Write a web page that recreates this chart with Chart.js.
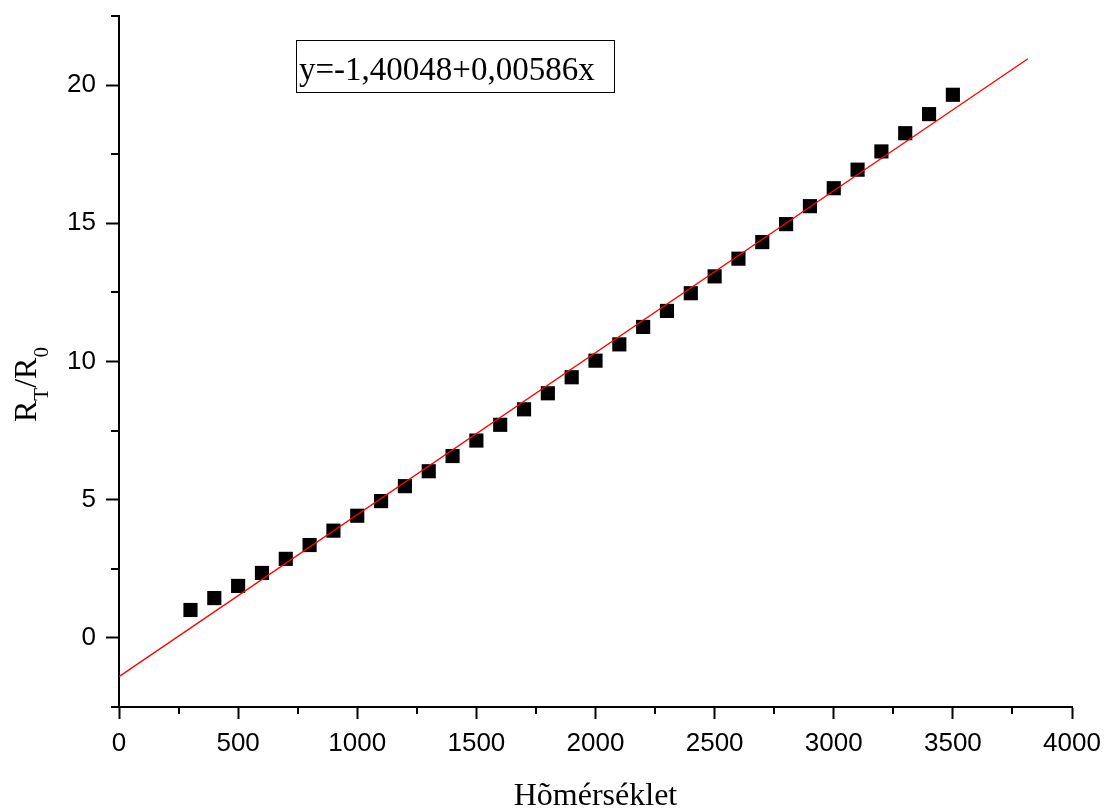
<!DOCTYPE html>
<html>
<head>
<meta charset="utf-8">
<script src="https://cdn.jsdelivr.net/npm/chart.js@4"></script>
<style>
  body { margin: 0; background: #fff; }
</style>
</head>
<body>
<canvas id="myChart" width="1106" height="809"></canvas>
<script>
// data
const temps = [300, 400, 500, 600, 700, 800, 900, 1000, 1100, 1200, 1300, 1400, 1500, 1600, 1700,
  1800, 1900, 2000, 2100, 2200, 2300, 2400, 2500, 2600, 2700, 2800, 2900, 3000, 3100, 3200, 3300, 3400, 3500]
const ratios = [1.01, 1.44, 1.88, 2.35, 2.86, 3.36, 3.88, 4.42, 4.95, 5.49, 6.03, 6.58, 7.14, 7.71, 8.27,
  8.85, 9.43, 10.03, 10.62, 11.25, 11.83, 12.47, 13.08, 13.72, 14.32, 14.97, 15.62, 16.27, 16.94, 17.60, 18.26, 18.95, 19.65]

// linear fit shown in the box
const fitA = -1.40048
const fitB = 0.00586
const fitX = [0, 3815]

const xTicks = [0, 500, 1000, 1500, 2000, 2500, 3000, 3500, 4000]
const yTicks = [0, 5, 10, 15, 20]
const xMinor = [250, 750, 1250, 1750, 2250, 2750, 3250, 3750]
const yMinor = [-2.5, 2.5, 7.5, 12.5, 17.5, 22.5]

const xTitle = 'Hõmérséklet'
const fitLabel = 'y=-1,40048+0,00586x'

const tickFont = { family: 'Liberation Sans', size: 26 }
const serif = 'Liberation Serif'

// minor ticks, axis titles and the equation box
const extras = {
  id: 'extras',
  afterDraw(chart) {
    const c = chart.ctx
    const x = chart.scales.x
    const y = chart.scales.y
    const area = chart.chartArea
    c.save()
    c.strokeStyle = '#000'
    c.lineWidth = 2
    c.beginPath()
    xMinor.forEach(v => {
      const px = Math.round(x.getPixelForValue(v))
      c.moveTo(px, area.bottom)
      c.lineTo(px, area.bottom + 7)
    })
    yMinor.forEach(v => {
      const py = Math.round(y.getPixelForValue(v))
      c.moveTo(area.left, py)
      c.lineTo(area.left - 8, py)
    })
    c.stroke()

    // x title
    c.fillStyle = '#000'
    c.font = '32px ' + serif
    c.textAlign = 'center'
    c.textBaseline = 'alphabetic'
    c.fillText(xTitle, (area.left + area.right) / 2, 805)

    // y title R_T/R_0
    c.translate(36, 422)
    c.rotate(-Math.PI / 2)
    c.textAlign = 'left'
    let pos = 0
    const part = (txt, size, off) => {
      c.font = size + 'px ' + serif
      c.fillText(txt, pos, off)
      pos += c.measureText(txt).width
    }
    part('R', 32, 0)
    part('T', 21, 12)
    part('/R', 32, 0)
    part('0', 21, 12)
    c.setTransform(1, 0, 0, 1, 0, 0)

    // equation box
    c.lineWidth = 1
    c.strokeRect(296.5, 40.5, 318, 52)
    c.font = '33px ' + serif
    c.textAlign = 'left'
    c.fillText(fitLabel, 299, 80)
    c.restore()
  }
}

const noPad = s => {
  s.paddingTop = 0
  s.paddingBottom = 0
  s.paddingLeft = 0
  s.paddingRight = 0
}

const ctx = document.getElementById('myChart').getContext('2d')
const myChart = new Chart(ctx, {
  type: 'scatter',
  data: {
    datasets: [{
      label: 'data',
      data: temps.map((t, i) => ({ x: t, y: ratios[i] })),
      pointStyle: 'rect',
      pointRadius: 10,
      pointHoverRadius: 10,
      backgroundColor: '#000',
      borderWidth: 0,
      order: 1
    }, {
      type: 'line',
      label: 'fit',
      data: fitX.map(t => ({ x: t, y: fitA + fitB * t })),
      borderColor: '#ff0000',
      borderWidth: 1.3,
      pointRadius: 0,
      fill: false,
      order: 0
    }]
  },
  options: {
    responsive: false,
    animation: false,
    devicePixelRatio: 1,
    layout: { padding: { left: 0, top: 16, right: 34, bottom: 0 } },
    plugins: {
      legend: { display: false },
      tooltip: { enabled: false }
    },
    scales: {
      x: {
        type: 'linear',
        min: 0,
        max: 4000,
        afterBuildTicks: s => { s.ticks = xTicks.map(v => ({ value: v })) },
        afterFit: s => { s.height = 102; noPad(s) },
        ticks: { color: '#000', font: tickFont, padding: 9, maxRotation: 0, callback: v => String(v) },
        grid: { drawOnChartArea: false, drawTicks: true, tickLength: 12, tickColor: '#000', tickWidth: 2 },
        border: { display: true, color: '#000', width: 2 }
      },
      y: {
        type: 'linear',
        min: -2.5,
        max: 22.5,
        afterBuildTicks: s => { s.ticks = yTicks.map(v => ({ value: v })) },
        afterFit: s => { s.width = 119; noPad(s) },
        ticks: { color: '#000', font: tickFont, padding: 10, callback: v => String(v) },
        grid: { drawOnChartArea: false, drawTicks: true, tickLength: 13, tickColor: '#000', tickWidth: 2 },
        border: { display: true, color: '#000', width: 2 }
      }
    }
  },
  plugins: [extras]
})
</script>
</body>
</html>
